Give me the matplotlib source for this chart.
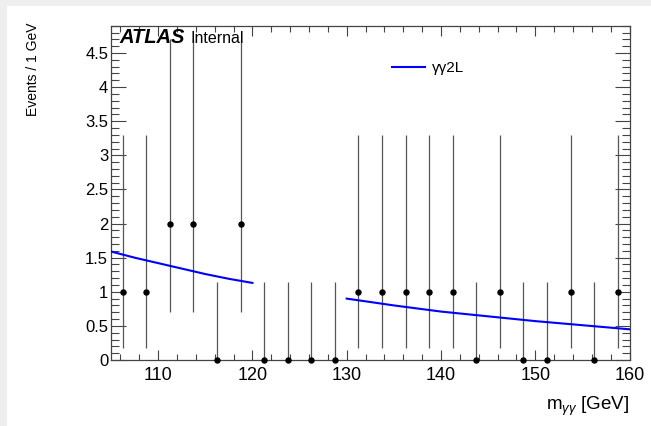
import matplotlib
matplotlib.use("Agg")
import matplotlib.pyplot as plt
from matplotlib.patches import Rectangle
from matplotlib.ticker import MultipleLocator

plt.rcParams['font.family'] = ['Liberation Sans', 'DejaVu Sans']
plt.rcParams['mathtext.fontset'] = 'custom'
plt.rcParams['mathtext.rm'] = 'Liberation Sans'
plt.rcParams['mathtext.it'] = 'Liberation Sans:italic'

# ---- data ----
bin_centers = [106.25, 108.75, 111.25, 113.75, 116.25, 118.75, 121.25, 123.75,
               126.25, 128.75, 131.25, 133.75, 136.25, 138.75, 141.25, 143.75,
               146.25, 148.75, 151.25, 153.75, 156.25, 158.75]
counts = [1, 1, 2, 2, 0, 2, 0, 0, 0, 0, 1, 1, 1, 1, 1, 0, 1, 0, 0, 1, 0, 1]
# read error-bar extents (lower edge, upper edge) per count value
err_low_edge = {0: 0.0, 1: 0.17, 2: 0.71}
err_high_edge = {0: 1.15, 1: 3.30, 2: 4.70}

fit_x_low = [105, 107.5, 110, 112.5, 115, 117.5, 120]
fit_y_low = [1.59, 1.50, 1.42, 1.34, 1.26, 1.19, 1.13]
fit_x_high = [130, 135, 140, 145, 150, 155, 160]
fit_y_high = [0.90, 0.80, 0.71, 0.64, 0.57, 0.51, 0.45]

W, H = 651, 426
fig = plt.figure(figsize=(W / 100, H / 100), dpi=100, facecolor='#eeeeee')
fig.patches.append(Rectangle((7 / W, 0), 1, (H - 6) / H, transform=fig.transFigure,
                             facecolor='white', edgecolor='none', zorder=-5))

ax = fig.add_axes([111 / W, 66 / H, (629.5 - 111) / W, (360 - 25.7) / H])
ax.set_zorder(2)
ax.set_facecolor('white')

lo = [c - err_low_edge[c] for c in counts]
hi = [err_high_edge[c] - c for c in counts]
ax.errorbar(bin_centers, counts, yerr=[lo, hi], fmt='o', color='black', ms=3.6,
            ecolor='#555555', elinewidth=0.9, capsize=0, zorder=3, clip_on=False)

ax.plot(fit_x_low, fit_y_low, color='#0000ff', lw=1.5, zorder=4)
ax.plot(fit_x_high, fit_y_high, color='#0000ff', lw=1.5, zorder=4, label='γγ2L')

ax.set_xlim(105, 160)
ax.set_ylim(0, 4.9)

ax.xaxis.set_major_locator(MultipleLocator(10))
ax.xaxis.set_minor_locator(MultipleLocator(2))
ax.yaxis.set_minor_locator(MultipleLocator(0.1))
ax.set_yticks([0, 0.5, 1, 1.5, 2, 2.5, 3, 3.5, 4, 4.5])
ax.set_yticklabels(['0', '0.5', '1', '1.5', '2', '2.5', '3', '3.5', '4', '4.5'])

ax.tick_params(axis='both', which='both', direction='in', top=True, right=True,
               color='#444444', width=0.8)
ax.tick_params(axis='x', which='major', length=7.5, labelsize=13, pad=5)
ax.tick_params(axis='x', which='minor', length=4)
ax.tick_params(axis='y', which='major', length=11, labelsize=12, pad=2)
ax.tick_params(axis='y', which='minor', length=5.5)
for s in ax.spines.values():
    s.set_color('#444444')
    s.set_linewidth(0.9)

fig.text(33 / W, 1 - 23 / H, 'Events / 1 GeV', rotation=90, ha='center', va='top',
         fontsize=10)
fig.text(629.5 / W, 1 - 410 / H, r'm$_{\gamma\gamma}$ [GeV]', ha='right', va='baseline',
         fontsize=13.5)

fig.text(119 / W, 1 - 43 / H, 'ATLAS', fontsize=14.5, fontweight='bold', fontstyle='italic',
         ha='left', va='baseline', zorder=5)
fig.text(190 / W, 1 - 43 / H, 'Internal', fontsize=11.5, ha='left', va='baseline', zorder=5)

ax.legend(loc='upper left', bbox_to_anchor=(0.515, 0.935), frameon=False, fontsize=11,
          handlelength=2.16, handletextpad=0.45)

fig.savefig('out.png', dpi=100, facecolor=fig.get_facecolor())
